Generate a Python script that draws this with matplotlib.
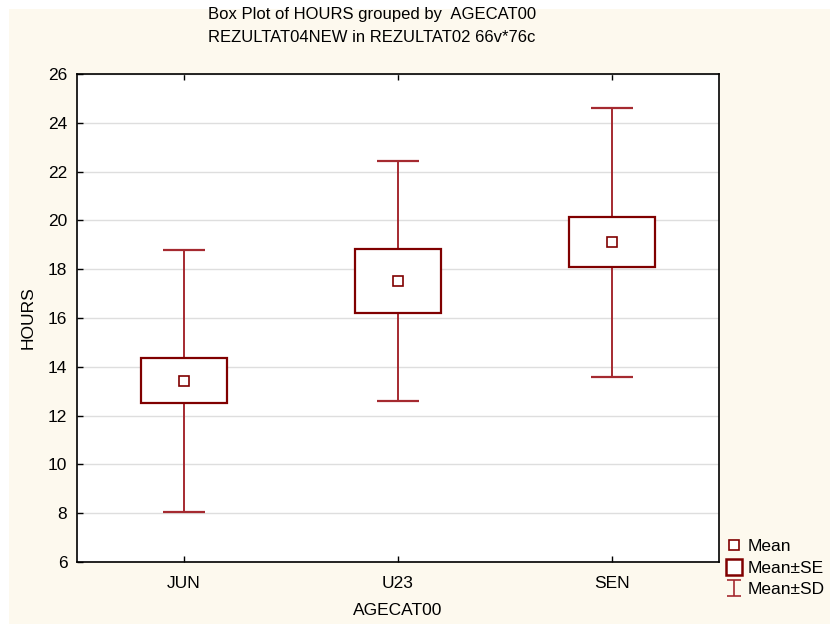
import matplotlib
matplotlib.use("Agg")
import matplotlib.pyplot as plt
from matplotlib.lines import Line2D
from matplotlib.path import Path
from matplotlib.patches import Rectangle
import numpy as np

categories = ["JUN", "U23", "SEN"]
means = [13.43, 17.51, 19.11]
se = [0.92, 1.31, 1.03]
sd = [5.37, 4.93, 5.51]
yticks = [6, 8, 10, 12, 14, 16, 18, 20, 22, 24, 26]

plt.rcParams['font.family'] = ['Liberation Sans', 'DejaVu Sans']

BOX = "#800000"
WHISK = "#a52a30"
BG = "#fdf9ee"

fig = plt.figure(figsize=(8.30, 6.24), dpi=100, facecolor="white")
fig.patches.append(Rectangle((9/830, 0), 1, 1 - 9/624, transform=fig.transFigure,
                             facecolor=BG, edgecolor="none", zorder=-10))
ax = fig.add_axes([77/830, 1 - 562/624, (719 - 77)/830, (562 - 74)/624])
ax.set_facecolor("white")

x = np.arange(1, len(categories) + 1)
m = np.array(means); s = np.array(se); d = np.array(sd)

ax.vlines(x, m - d, m + d, color=WHISK, lw=1.4, zorder=2)
ax.hlines(m + d, x - 0.1, x + 0.1, color=WHISK, lw=1.6, zorder=2)
ax.hlines(m - d, x - 0.1, x + 0.1, color=WHISK, lw=1.6, zorder=2)
ax.bar(x, 2 * s, bottom=m - s, width=0.4, facecolor="white", edgecolor=BOX,
       linewidth=1.6, zorder=3)
ax.plot(x, m, linestyle="none", marker="s", markersize=7, markerfacecolor="white",
        markeredgecolor=BOX, markeredgewidth=1.2, zorder=4)

ax.set_xlim(0.5, 3.5)
ax.set_ylim(6, 26)
ax.set_yticks(yticks)
ax.set_xticks(x)
ax.set_xticklabels(categories)
ax.yaxis.grid(True, color="#dedede", lw=1)
ax.set_axisbelow(True)
ax.tick_params(direction="in", length=4, width=1, labelsize=12.5, top=True, right=False,
               colors="black")
ax.tick_params(axis="x", pad=10)
ax.tick_params(axis="y", pad=7)
for sp in ax.spines.values():
    sp.set_linewidth(1.2)
    sp.set_color("black")

ax.set_xlabel("AGECAT00", fontsize=12.5, labelpad=9)
ax.set_ylabel("HOURS", fontsize=12.5, labelpad=9)

fig.text(372/830, 1 - 14/624, "Box Plot of HOURS grouped by  AGECAT00", ha="center",
         va="center", fontsize=12)
fig.text(372/830, 1 - 38/624, "REZULTAT04NEW in REZULTAT02 66v*76c", ha="center",
         va="center", fontsize=12)

ipath = Path([(-0.45, 0.5), (0.45, 0.5), (0, 0.5), (0, -0.5), (-0.45, -0.5), (0.45, -0.5)],
             [Path.MOVETO, Path.LINETO, Path.MOVETO, Path.LINETO, Path.MOVETO, Path.LINETO])
handles = [
    Line2D([], [], linestyle="none", marker="s", markersize=7, markerfacecolor="white",
           markeredgecolor=BOX, markeredgewidth=1.2),
    Line2D([], [], linestyle="none", marker="s", markersize=11, markerfacecolor="white",
           markeredgecolor=BOX, markeredgewidth=1.8),
    Line2D([], [], linestyle="none", marker=ipath, markersize=11, markerfacecolor="none",
           markeredgecolor=WHISK, markeredgewidth=1.2),
]
fig.legend(handles, ["Mean", "Mean±SE", "Mean±SD"], loc="lower left",
           bbox_to_anchor=(714/830, 1 - 609/624), frameon=False, fontsize=12.5,
           handlelength=0.9, handletextpad=0.35, labelspacing=0.35, borderpad=0.2)

fig.savefig("out.png", dpi=100, facecolor=fig.get_facecolor())
